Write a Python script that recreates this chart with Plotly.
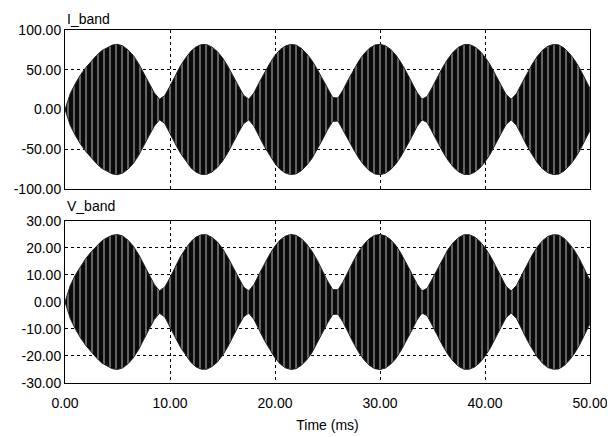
import plotly.graph_objects as go
from plotly.subplots import make_subplots

# Time axis samples (ms)
time_ms = [i * 0.5 for i in range(101)]

# Envelope (peak amplitude) of I_band, at each time sample
i_band_env = [
    0, 20, 33, 44, 53, 61, 68, 74, 78, 81,
    82, 80, 75, 68, 58, 46, 33, 21, 13, 17.5,
    29.5, 43, 55, 65, 73.5, 79, 81.7, 81.6, 78.5, 73,
    65, 54.5, 42.5, 29.5, 18, 13, 21, 34, 47, 58,
    68, 75.5, 80, 81.9, 81, 77, 70.5, 62, 51, 38.5,
    25.5, 15, 14.5, 25, 38, 50.5, 61.5, 70.5, 77, 81,
    82, 80.3, 75.8, 68.7, 59, 47.5, 35, 22, 13, 16.5,
    28.5, 41.8, 53.8, 64.3, 72.6, 78.5, 81.6, 81.8, 79, 73.8,
    66, 56, 44, 31, 19, 13, 20, 32.7, 45.8, 57,
    67.2, 74.8, 79.7, 81.8, 81.3, 77.6, 71.2, 63, 52.2, 39.8,
    26.3,
]

# Envelope (peak amplitude) of V_band
v_band_env = [
    0, 6.1, 10.1, 13.4, 16.2, 18.6, 20.7, 22.6, 23.8, 24.7,
    25.0, 24.4, 22.9, 20.7, 17.7, 14.0, 10.1, 6.5, 4.2, 5.5,
    9.0, 13.1, 16.8, 19.8, 22.4, 24.1, 24.9, 24.9, 23.9, 22.3,
    19.8, 16.6, 13.0, 9.0, 5.6, 4.1, 6.5, 10.4, 14.3, 17.7,
    20.7, 23.0, 24.4, 25.0, 24.7, 23.5, 21.5, 18.9, 15.6, 11.7,
    7.8, 4.6, 4.5, 7.6, 11.6, 15.4, 18.8, 21.5, 23.5, 24.7,
    25.0, 24.5, 23.1, 21.0, 18.0, 14.5, 10.7, 6.8, 4.1, 5.1,
    8.7, 12.7, 16.4, 19.6, 22.1, 23.9, 24.9, 24.9, 24.1, 22.5,
    20.1, 17.1, 13.4, 9.5, 5.8, 4.1, 6.1, 10.0, 14.0, 17.4,
    20.5, 22.8, 24.3, 24.9, 24.8, 23.7, 21.7, 19.2, 15.9, 12.1,
    8.0,
]

x_ticks = [0, 10, 20, 30, 40, 50]
i_ticks = [-100, -50, 0, 50, 100]
v_ticks = [-30, -20, -10, 0, 10, 20, 30]

fig = make_subplots(rows=2, cols=1, shared_xaxes=False, vertical_spacing=0.0)

def band(env):
    xs = time_ms + time_ms[::-1]
    ys = list(env) + [-v for v in env[::-1]]
    return xs, ys

pattern = dict(shape="|", fgcolor="#f2f2f2", bgcolor="#0a0a0a", size=6, solidity=0.13, fillmode="replace")

xs, ys = band(i_band_env)
fig.add_trace(go.Scatter(x=xs, y=ys, mode="lines", fill="toself", fillcolor="#0a0a0a",
                         fillpattern=pattern, line=dict(color="#222222", width=1),
                         hoverinfo="skip", showlegend=False), row=1, col=1)
xs, ys = band(v_band_env)
fig.add_trace(go.Scatter(x=xs, y=ys, mode="lines", fill="toself", fillcolor="#0a0a0a",
                         fillpattern=pattern, line=dict(color="#222222", width=1),
                         hoverinfo="skip", showlegend=False), row=2, col=1)

font = dict(family="Liberation Sans, Arial, sans-serif", size=14, color="black")

axis_common = dict(showline=True, linecolor="black", linewidth=1, mirror=True,
                   showgrid=True, gridcolor="black", gridwidth=1, griddash="dot",
                   zeroline=False, ticks="", tickfont=font, automargin=False)

fig.update_xaxes(range=[0, 50], tickvals=x_ticks, showticklabels=False, **axis_common, row=1, col=1)
fig.update_xaxes(range=[0, 50], tickvals=x_ticks, ticktext=[f"{v:.2f}" for v in x_ticks],
                 ticklabelstandoff=7,
                 title=dict(text="Time (ms)", font=font, standoff=10), **axis_common, row=2, col=1)
fig.update_yaxes(range=[-100, 100], tickvals=i_ticks, ticktext=[f"{v:.2f}" for v in i_ticks],
                 domain=[0.5496, 1.0], **axis_common, row=1, col=1)
fig.update_yaxes(range=[-30, 30], tickvals=v_ticks, ticktext=[f"{v:.2f}" for v in v_ticks],
                 domain=[0.0, 0.459], **axis_common, row=2, col=1)

fig.update_layout(
    width=615, height=437,
    margin=dict(l=57, r=33, t=22, b=62),
    paper_bgcolor="white", plot_bgcolor="white",
    font=font,
    annotations=[
        dict(text="I_band", xref="paper", yref="paper", x=0, y=1.0, xanchor="left", yanchor="bottom",
             yshift=1, showarrow=False, font=font),
        dict(text="V_band", xref="paper", yref="paper", x=0, y=0.5496, xanchor="left", yanchor="bottom",
             yshift=-27, showarrow=False, font=font),
    ],
)

fig.write_html("out.html")
